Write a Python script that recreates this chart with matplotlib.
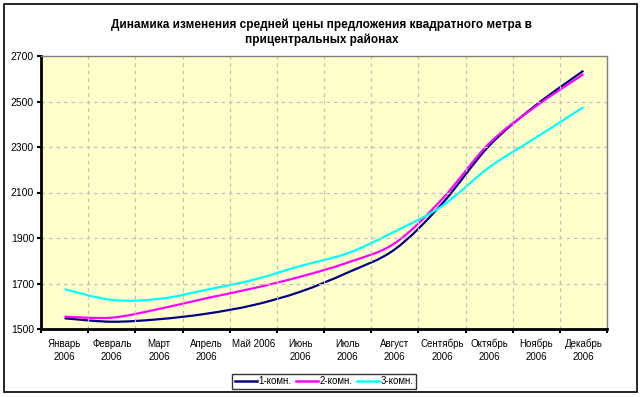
import numpy as np
import matplotlib.pyplot as plt
from matplotlib.path import Path
from matplotlib.patches import PathPatch, Rectangle
from matplotlib.lines import Line2D

plt.rcParams["font.family"] = ["Liberation Sans", "DejaVu Sans"]

months = ["Январь\n2006", "Февраль\n2006", "Март\n2006", "Апрель\n2006", "Май 2006", "Июнь\n2006",
          "Июль\n2006", "Август\n2006", "Сентябрь\n2006", "Октябрь\n2006", "Ноябрь\n2006", "Декабрь\n2006"]
room1 = [1547, 1532, 1543, 1567, 1605, 1664, 1748, 1850, 2050, 2305, 2485, 2635]
room2 = [1554, 1550, 1588, 1635, 1679, 1730, 1792, 1877, 2070, 2315, 2480, 2620]
room3 = [1675, 1628, 1632, 1672, 1716, 1777, 1833, 1928, 2040, 2210, 2342, 2475]
names = ["1-комн.", "2-комн.", "3-комн."]
colors = ["#000080", "#FF00FF", "#00FFFF"]


def smooth_path(x, y):
	# excel-like smoothed line: cubic bezier through the points
	p = np.column_stack([x, y]).astype(float)
	n = len(p)
	verts = [p[0]]
	codes = [Path.MOVETO]
	for i in range(n - 1):
		p0 = p[i - 1] if i > 0 else p[i]
		p3 = p[i + 2] if i + 2 < n else p[i + 1]
		c1 = p[i] + (p[i + 1] - p0) / 6
		c2 = p[i + 1] - (p3 - p[i]) / 6
		verts += [c1, c2, p[i + 1]]
		codes += [Path.CURVE4] * 3
	return Path(verts, codes)


fig = plt.figure(figsize=(6.43, 3.97), dpi=100)
fig.patches.append(Rectangle((4 / 643, 5 / 397), 633 / 643, 388 / 397, transform=fig.transFigure,
                             fill=False, edgecolor="black", linewidth=1.2))
ax = fig.add_axes([41 / 643, 1 - 329 / 397, 566 / 643, 273 / 397])
ax.set_facecolor("#FFFFCC")

x = np.arange(len(months))
for ys, c in zip([room1, room2, room3], colors):
	ax.add_patch(PathPatch(smooth_path(x, ys), fill=False, edgecolor=c, linewidth=1.6))

ax.set_xlim(-0.5, 11.5)
ax.set_ylim(1500, 2700)
ax.set_yticks(np.arange(1500, 2701, 200))
ax.set_xticks(x)
ax.set_xticklabels(months, fontsize=7, linespacing=1.35)
ax.set_xticks(np.arange(-0.5, 11.6, 1), minor=True)
ax.tick_params(axis="x", which="major", length=0, pad=7)
ax.tick_params(axis="x", which="minor", length=3, width=1.5, direction="out")
ax.tick_params(axis="y", labelsize=7.5, length=3, width=1.5, direction="out", pad=2)
ax.grid(True, axis="y", which="major", color="#C0C0C0", linestyle=(0, (3, 3)), linewidth=0.9)
ax.grid(True, axis="x", which="minor", color="#C0C0C0", linestyle=(0, (3, 3)), linewidth=0.9)

for s in ["top", "right"]:
	ax.spines[s].set_color("#808080")
	ax.spines[s].set_linewidth(1)
for s in ["left", "bottom"]:
	ax.spines[s].set_linewidth(2)

fig.text(0.5, 1 - 32.5 / 397, "Динамика изменения средней цены предложения квадратного метра в\nприцентральных районах",
         ha="center", va="center", fontsize=8.5, fontweight="bold", linespacing=1.3)

handles = [Line2D([], [], color=c, linewidth=1.8) for c in colors]
leg = fig.legend(handles, names, loc="center", bbox_to_anchor=(324 / 643, 1 - 381.5 / 397), ncol=3,
                 fontsize=7, frameon=True, fancybox=False, edgecolor="black", handlelength=2.3,
                 handletextpad=0.1, columnspacing=0.5, borderpad=0.3, borderaxespad=0)
leg.get_frame().set_linewidth(1)

plt.savefig("out.png", dpi=100)
